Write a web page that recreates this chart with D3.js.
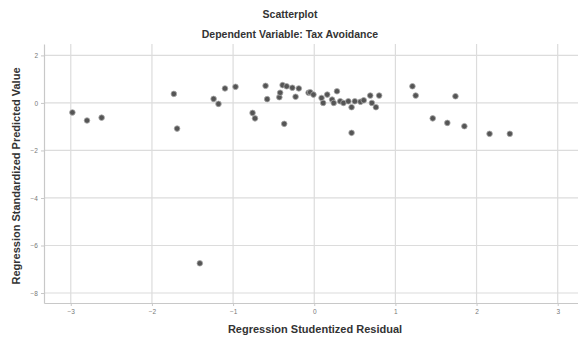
<!DOCTYPE html>
<html lang="en">
<head>
	<meta charset="UTF-8">
	<title>Scatterplot</title>
	<script src="https://cdn.jsdelivr.net/npm/d3@7/dist/d3.min.js"></script>
	<style>
		body { margin: 0; background: #fff; }
		svg { font-family: "Liberation Sans", Arial, sans-serif; }
	</style>
</head>
<body>
	<svg id="grafico" width="578" height="340"></svg>
	<script>
	// studentized residual (x) and standardized predicted value (y)
	var residual = [-2.98, -2.80, -2.62, -1.73, -1.69, -1.24, -1.18, -1.10, -0.97, -0.76,
		-0.73, -0.60, -0.58, -0.43, -0.42, -0.39, -0.37, -0.34, -0.27, -0.23,
		-0.19, -0.07, -0.05, -0.01, 0.09, 0.11, 0.16, 0.22, 0.24, 0.28,
		0.32, 0.36, 0.42, 0.46, 0.46, 0.50, 0.57, 0.61, 0.69, 0.71,
		0.76, 0.80, 1.21, 1.25, 1.46, 1.64, 1.74, 1.85, 2.16, 2.41, -1.41];
	var predicted = [-0.40, -0.74, -0.62, 0.38, -1.08, 0.17, -0.04, 0.61, 0.68, -0.42,
		-0.65, 0.72, 0.16, 0.24, 0.43, 0.75, -0.88, 0.70, 0.64, 0.26,
		0.61, 0.43, 0.45, 0.35, 0.21, 0.00, 0.35, 0.14, 0.00, 0.49,
		0.07, 0.00, 0.07, -0.18, -1.26, 0.07, 0.05, 0.11, 0.31, 0.00,
		-0.18, 0.31, 0.70, 0.31, -0.65, -0.84, 0.28, -0.98, -1.30, -1.30, -6.75];
	var xTicks = [-3, -2, -1, 0, 1, 2, 3];
	var yTicks = [2, 0, -2, -4, -6, -8];

	var svg = d3.select("#grafico");
	var pLeft = 44, pRight = 578, pTop = 44, pBottom = 303;

	var x = d3.scaleLinear().domain([-3.33, 3.25]).range([pLeft, pRight]);
	var y = d3.scaleLinear().domain([-8.42, 2.48]).range([pBottom, pTop]);

	// grid
	svg.append("g").selectAll("line").data(yTicks).enter().append("line")
		.attr("x1", pLeft).attr("x2", pRight)
		.attr("y1", function(d){ return y(d); }).attr("y2", function(d){ return y(d); })
		.attr("stroke", "#dcdcdc").attr("stroke-width", 1.2);
	svg.append("g").selectAll("line").data(xTicks).enter().append("line")
		.attr("y1", pTop).attr("y2", pBottom)
		.attr("x1", function(d){ return x(d); }).attr("x2", function(d){ return x(d); })
		.attr("stroke", "#dcdcdc").attr("stroke-width", 1.2);

	// axes
	var gx = svg.append("g").attr("transform", "translate(0," + pBottom + ")")
		.call(d3.axisBottom(x).tickValues(xTicks).tickSize(3).tickSizeOuter(0).tickFormat(d3.format("d")));
	var gy = svg.append("g").attr("transform", "translate(" + pLeft + ",0)")
		.call(d3.axisLeft(y).tickValues(yTicks).tickSize(3).tickSizeOuter(0).tickFormat(d3.format("d")));
	[gx, gy].forEach(function(g){
		g.select(".domain").attr("stroke", "#c8c8c8").attr("stroke-width", 1.2);
		g.selectAll(".tick line").attr("stroke", "#c8c8c8");
		g.selectAll(".tick text").attr("fill", "#777").style("font-size", "6.5px");
	});

	// points
	svg.append("g").selectAll("circle").data(residual).enter().append("circle")
		.attr("cx", function(d){ return x(d); })
		.attr("cy", function(d, i){ return y(predicted[i]); })
		.attr("r", 2.8)
		.attr("fill", "#555").attr("stroke", "#aaa").attr("stroke-width", 0.8);

	// titles
	svg.append("text").attr("x", 290).attr("y", 18).attr("text-anchor", "middle")
		.style("font-size", "10.5px").style("font-weight", "bold").attr("fill", "#333").text("Scatterplot");
	svg.append("text").attr("x", 290).attr("y", 38).attr("text-anchor", "middle")
		.style("font-size", "10.5px").style("font-weight", "bold").attr("fill", "#333").text("Dependent Variable: Tax Avoidance");
	svg.append("text").attr("x", 315).attr("y", 333).attr("text-anchor", "middle")
		.style("font-size", "11px").style("font-weight", "bold").attr("fill", "#333").text("Regression Studentized Residual");
	svg.append("text").attr("transform", "translate(20,176) rotate(-90)").attr("text-anchor", "middle")
		.style("font-size", "11px").style("font-weight", "bold").attr("fill", "#333").text("Regression Standardized Predicted Value");
	</script>
</body>
</html>
